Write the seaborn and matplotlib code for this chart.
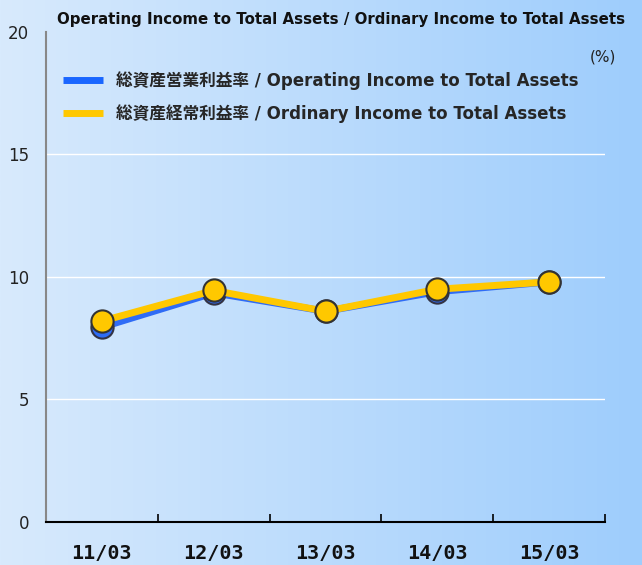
import numpy as np
import pandas as pd
import seaborn as sns
import matplotlib.pyplot as plt
from matplotlib.colors import LinearSegmentedColormap
from matplotlib.lines import Line2D

# Chart data
years = ['11/03', '12/03', '13/03', '14/03', '15/03']
operating = [7.95, 9.35, 8.6, 9.4, 9.8]
ordinary = [8.2, 9.45, 8.6, 9.5, 9.8]
yticks = [0, 5, 10, 15, 20]

label_op = '総資産営業利益率 / Operating Income to Total Assets'
label_ord = '総資産経常利益率 / Ordinary Income to Total Assets'

sns.set_theme(style='white')
plt.rcParams['font.family'] = ['DejaVu Sans', 'Noto Sans CJK JP']

fig = plt.figure(figsize=(6.42, 5.65), dpi=100)

# gradient background for the whole figure
bg = fig.add_axes([0, 0, 1, 1], zorder=-10)
cmap = LinearSegmentedColormap.from_list('bg', ['#d8eafd', '#9ecdfc'])
bg.imshow(np.linspace(0, 1, 256).reshape(1, -1), aspect='auto', cmap=cmap, extent=[0, 1, 0, 1])
bg.axis('off')

ax = fig.add_axes([0.0717, 0.0761, 0.8707, 0.8673])
ax.patch.set_alpha(0)

blue = '#2f6cf6'
yellow = '#ffc800'

for y in [5, 10, 15]:
    ax.axhline(y, color='white', lw=1, zorder=1)

x = np.arange(len(years))
sns.lineplot(x=x, y=operating, ax=ax, color=blue, lw=5, marker='o', markersize=16,
             markerfacecolor=blue, markeredgecolor='#333344', markeredgewidth=1.5, zorder=3)
sns.lineplot(x=x, y=ordinary, ax=ax, color=yellow, lw=5, marker='o', markersize=16,
             markerfacecolor=yellow, markeredgecolor='#333333', markeredgewidth=1.5, zorder=4)

ax.set_xlim(-0.5, 4.5)
ax.set_ylim(0, 20)
ax.set_yticks(yticks)
ax.set_yticklabels([str(t) for t in yticks], fontsize=12, color='#222222')
ax.set_xticks(x)
ax.set_xticklabels(years, fontsize=14.5, fontweight='bold', family='DejaVu Sans Mono', color='#111111')
ax.set_xticks(np.arange(0.5, 5, 1), minor=True)
ax.tick_params(axis='x', which='major', bottom=False, length=0, pad=16)
ax.tick_params(axis='x', which='minor', bottom=True, direction='in', length=6, width=1.2, color='black')
ax.tick_params(axis='y', length=0, pad=12)
for s in ['top', 'right']:
    ax.spines[s].set_visible(False)
ax.spines['bottom'].set_color('black')
ax.spines['bottom'].set_linewidth(1.5)
ax.spines['left'].set_color('#888888')
ax.spines['left'].set_linewidth(1.5)
ax.set_xlabel('')
ax.set_ylabel('')

handles = [Line2D([0], [0], color='#1a66ff', lw=5, solid_capstyle='butt'),
           Line2D([0], [0], color=yellow, lw=5, solid_capstyle='butt')]
leg = ax.legend(handles, [label_op, label_ord], loc='upper left', bbox_to_anchor=(0.003, 0.95),
                frameon=False, handlelength=2.4, handletextpad=0.8, labelspacing=0.85,
                prop={'weight': 'bold', 'size': 12})

ax.text(1.02, 0.949, '(%)', transform=ax.transAxes, ha='right', va='center', fontsize=11, color='#222222')
fig.text(0.531, 0.966, 'Operating Income to Total Assets / Ordinary Income to Total Assets',
         ha='center', va='center', fontsize=10.8, fontweight='bold', color='#111111')

fig.savefig('out.png', dpi=100)
